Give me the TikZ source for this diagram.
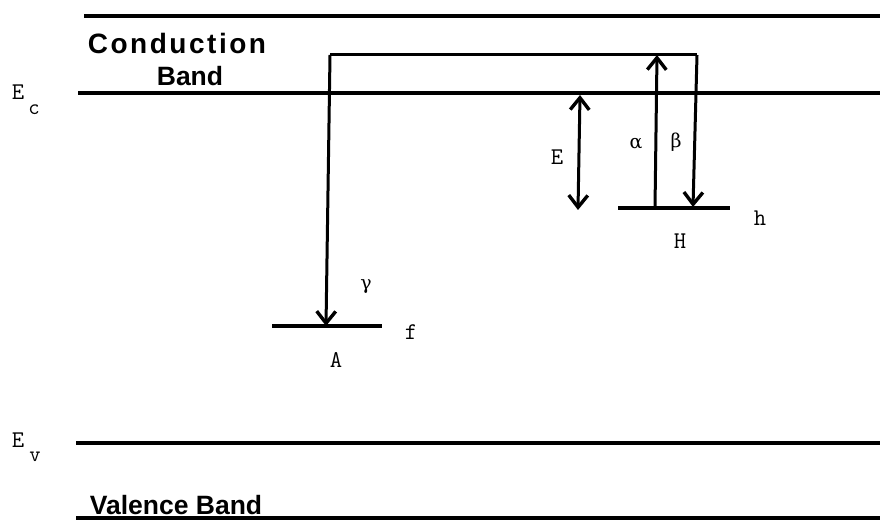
\documentclass[tikz,border=0pt]{standalone}
\usepackage{fontspec}
\setmainfont{Liberation Sans}
\newfontfamily\greekfont{DejaVu Serif}
\newfontfamily\bandfont{Liberation Sans Bold}
\usetikzlibrary{arrows.meta}
\tikzset{
  band/.style={line width=3.4pt},
  level/.style={line width=3.2pt},
  trans/.style={line width=3pt, -{Straight Barb[length=12pt,width=19pt,line width=3.4pt]}},
  dtrans/.style={line width=3pt, {Straight Barb[length=12pt,width=19pt,line width=3.4pt]}-{Straight Barb[length=12pt,width=19pt,line width=3.4pt]}},
  lab/.style={font=\ttfamily\fontsize{24}{24}\selectfont, inner sep=0pt},
  glab/.style={font=\greekfont\fontsize{19}{19}\selectfont, inner sep=0pt},
  sub/.style={font=\ttfamily\fontsize{22}{22}\selectfont, inner sep=0pt},
  bandlab/.style={font=\bandfont\fontsize{26.5}{27}\selectfont, inner sep=0pt, align=center}
}
\begin{document}
\begin{tikzpicture}[x=1pt,y=-1pt]
\useasboundingbox (0,0) rectangle (880,521);
% band edges
\coordinate (t0) at (84,16);  \coordinate (t1) at (880,16);
\coordinate (c0) at (78,93);  \coordinate (c1) at (880,93);
\coordinate (v0) at (76,443); \coordinate (v1) at (880,443);
\coordinate (b0) at (76,518); \coordinate (b1) at (880,518);
\draw[band] (t0) -- (t1);
\draw[band] (c0) -- (c1);
\draw[band] (v0) -- (v1);
\draw[band] (b0) -- (b1);
% band labels
\node[bandlab] (cb) at (177,43) {\fontsize{28}{28}\selectfont\addfontfeature{LetterSpace=9}Conduction};
\node[bandlab] (bb) at (190,76) {Band};
\node[bandlab] (vb) at (176,505) {Valence Band};
% energy labels
\node[lab] (Ec) at (18,92) {E};
\node[sub] (Ecs) at (34,110) {c};
\node[lab] (Ev) at (18,440) {E};
\node[sub] (Evs) at (35,457) {v};
% levels
\coordinate (Al) at (272,326); \coordinate (Ar) at (382,326);
\coordinate (Hl) at (618,208); \coordinate (Hr) at (730,208);
\draw[level] (Al) -- (Ar);
\draw[level] (Hl) -- (Hr);
% loop corners
\coordinate (Lt) at (330,55);
\coordinate (Rt) at (697,55);
\coordinate (Ab) at (326,326);
\coordinate (Hb) at (693,207);
\coordinate (al0) at (655,208);
\coordinate (al1) at (657,55);
\coordinate (E0) at (580,95);
\coordinate (E1) at (578,210);
\draw[line width=3pt] (Lt) -- (Rt);
\draw[trans] (Lt) -- (Ab);
\draw[trans] (Rt) -- (Hb);
\draw[trans] (al0) -- (al1);
\draw[dtrans] (E0) -- (E1);
% labels
\node[lab] (El) at (557,157) {E};
\node[glab] (alab) at (636,144) {α};
\node[glab] (blab) at (676,142) {β};
\node[lab] (hlab) at (760,218) {h};
\node[lab] (Hlab) at (680,241) {H};
\node[glab] (glab) at (366,287) {γ};
\node[lab] (flab) at (411,332) {f};
\node[lab] (Alab) at (336,360) {A};
\end{tikzpicture}
\end{document}
